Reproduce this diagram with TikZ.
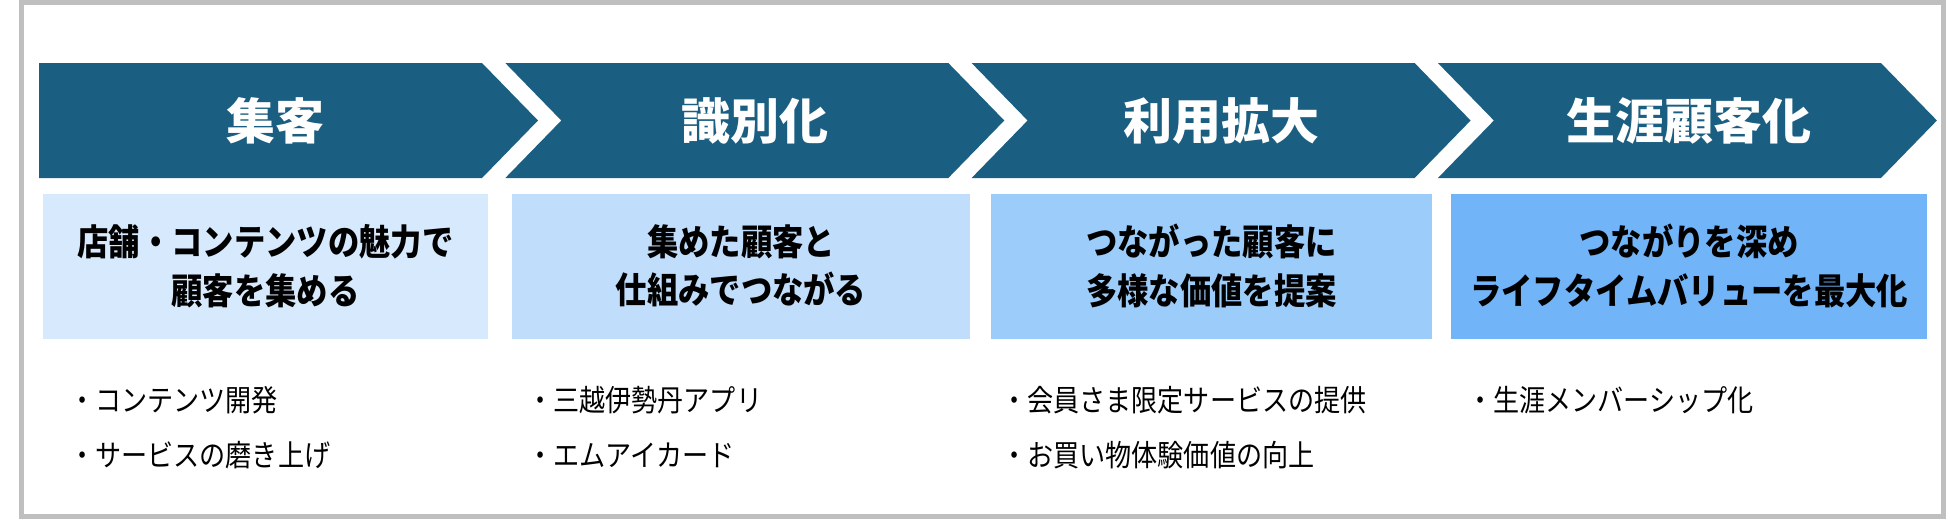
\documentclass[tikz,border=0pt]{standalone}
\usepackage{fontspec}
\newfontfamily\jpfont{Noto Sans CJK JP}
\newfontfamily\jpnarrow{Noto Sans CJK JP}[FakeStretch=0.87]
\usepackage{tikz}
\usetikzlibrary{positioning}

\definecolor{stageblue}{RGB}{26,94,129}
\definecolor{goalA}{RGB}{215,233,252}
\definecolor{goalB}{RGB}{192,222,251}
\definecolor{goalC}{RGB}{156,204,250}
\definecolor{goalD}{RGB}{113,180,248}
\definecolor{framegray}{RGB}{191,191,191}

\begin{document}
\begin{tikzpicture}[
    x=1pt, y=-1pt, font=\jpfont,
    stagetxt/.style={text=white, inner sep=0pt, font=\jpfont\bfseries\fontsize{49}{56}\selectfont},
    goal/.style={rectangle, inner sep=0pt, minimum height=145pt, align=center, font=\jpnarrow\bfseries\fontsize{36}{48.5}\selectfont},
    item/.style={anchor=west, inner sep=0pt, font=\jpnarrow\fontsize{30}{34}\selectfont}
]
    \useasboundingbox (0,0) rectangle (1950,520);
    % frame
    \draw[framegray, line width=5pt] (21.5,2.5) rectangle (1943.5,516.7);
    % chevrons
    \fill[stageblue] (39,63) -- (482,63) -- (538,120.5) -- (482,178) -- (39,178) -- cycle;
    \foreach \i in {1,2,3} {
        \pgfmathsetmacro{\L}{39+466.3*\i}
        \fill[stageblue] (\L,63) -- (\L+443,63) -- (\L+499,120.5) -- (\L+443,178)
            -- (\L,178) -- (\L+56,120.5) -- cycle;
    }
    \node[stagetxt] (stage1) at (275,120.5) {集客};
    \node[stagetxt] (stage2) at (755,120.5) {識別化};
    \node[stagetxt] (stage3) at (1221,120.5) {利用拡大};
    \node[stagetxt] (stage4) at (1689,120.5) {生涯顧客化};
    % goal boxes
    \node[goal, fill=goalA, minimum width=445pt] (goal1) at (265.5,266) {店舗・コンテンツの魅力で\\顧客を集める};
    \node[goal, fill=goalB, minimum width=458pt] (goal2) at (741,266) {集めた顧客と\\仕組みでつながる};
    \node[goal, fill=goalC, minimum width=441pt] (goal3) at (1211.5,266) {つながった顧客に\\多様な価値を提案};
    \node[goal, fill=goalD, minimum width=476pt] (goal4) at (1689,266) {つながりを深め\\ライフタイムバリューを最大化};
    % measures
    \node[item] (item11) at (69,400) {・コンテンツ開発};
    \node[item] (item12) at (69,455) {・サービスの磨き上げ};
    \node[item] (item21) at (527,400) {・三越伊勢丹アプリ};
    \node[item] (item22) at (527,455) {・エムアイカード};
    \node[item] (item31) at (1001,400) {・会員さま限定サービスの提供};
    \node[item] (item32) at (1001,455) {・お買い物体験価値の向上};
    \node[item] (item41) at (1467,400) {・生涯メンバーシップ化};
\end{tikzpicture}
\end{document}
